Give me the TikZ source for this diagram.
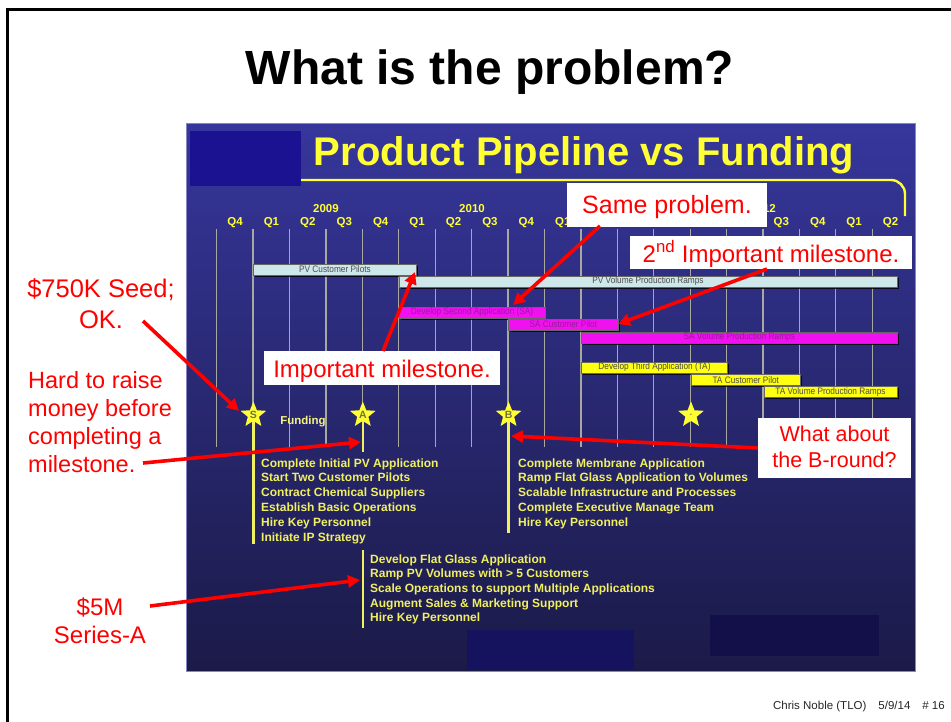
\documentclass[tikz,border=0pt]{standalone}
\usepackage{fontspec}
\setmainfont{Liberation Sans}
\newfontfamily\barfont[FakeStretch=0.88]{Liberation Sans}
\usetikzlibrary{shapes.geometric,arrows.meta,shadows}
\definecolor{panelTop}{HTML}{36369C}
\definecolor{panelBot}{HTML}{1B1A47}
\definecolor{darkSq}{HTML}{1A1290}
\definecolor{rectA}{HTML}{15125E}
\definecolor{rectB}{HTML}{130F48}
\definecolor{ylw}{HTML}{FFFF33}
\definecolor{listY}{HTML}{F0F060}
\definecolor{gridG}{HTML}{A8A8A0}
\definecolor{pvBlue}{HTML}{CDE7EB}
\definecolor{saMag}{HTML}{F010F0}
\definecolor{saText}{HTML}{9A1A9A}
\definecolor{taYel}{HTML}{FFFF10}
\definecolor{starT}{HTML}{707040}
\definecolor{annRed}{HTML}{FF0000}
\begin{document}
\begin{tikzpicture}[x=1pt,y=-1pt,
  gridline/.style={draw=gridG, line width=1.3},
  fundline/.style={draw=listY, line width=2.4},
  qlabel/.style={text=ylw, font=\bfseries\fontsize{11.5}{12}\selectfont, inner sep=0},
  barbox/.style={draw=black!60, line width=0.5, minimum height=11, inner sep=0,
    font=\barfont\fontsize{9.4}{9.5}\selectfont,
    drop shadow={shadow xshift=1.5pt, shadow yshift=-1.5pt, opacity=0.8, fill=black}},
  pvbar/.style={barbox, fill=pvBlue, text=black!70},
  sabar/.style={barbox, fill=saMag, text=saText},
  tabar/.style={barbox, fill=taYel, text=black!70},
  fstar/.style={star, star points=5, star point ratio=2.3, minimum size=27, inner sep=0,
    fill=ylw, text=starT, font=\bfseries\fontsize{10.5}{11}\selectfont},
  listtxt/.style={anchor=base west, text=listY, font=\bfseries\fontsize{12}{13}\selectfont, inner sep=0},
  annbox/.style={fill=white, inner sep=0},
  anntxt/.style={text=annRed, inner sep=0, anchor=base, font=\fontsize{24}{26}\selectfont},
  redarrow/.style={draw=annRed, line width=3.6, -{Triangle[length=12pt,width=12pt]}}
]
\useasboundingbox (0,0) rectangle (951,721);
\fill[white] (0,0) rectangle (951,721);
\draw[line width=3] (7,730) -- (7,9) -- (960,9);

% slide title
\node[anchor=base, font=\bfseries\fontsize{48}{50}\selectfont, inner sep=0] (title) at (490,84) {What is the problem?};

% panel
\shade[top color=panelTop, bottom color=panelBot] (186,123) rectangle (915,671);
\draw[draw=panelTop!60!white, line width=1] (186,123) rectangle (915,671);
\fill[darkSq] (190,131) rectangle (301,186);
\fill[rectA] (467,630) rectangle (634,670);
\fill[rectB] (710,615) rectangle (879,656);

\node[anchor=base, text=ylw, font=\bfseries\fontsize{40}{42}\selectfont, inner sep=0] (ptitle) at (584,165) {Product Pipeline vs Funding};
\draw[draw=ylw, line width=2.4, rounded corners=14] (301,180) -- (905,180) -- (905,216);

% grid
\foreach \i in {0,...,18} {
  \draw[gridline] ({216.7+36.42*\i},229) -- ({216.7+36.42*\i},447);
}
\foreach \q/\i in {Q4/0,Q1/1,Q2/2,Q3/3,Q4/4,Q1/5,Q2/6,Q3/7,Q4/8,Q1/9,Q3/15,Q4/16,Q1/17,Q2/18} {
  \node[qlabel, anchor=base] (q\i) at ({235+36.42*\i},225.5) {\q};
}
\node[qlabel, anchor=base] (y2009) at (326,212) {2009};
\node[qlabel, anchor=base] (y2010) at (472,212) {2010};
\node[qlabel, anchor=base] (y2012) at (763,212) {2012};

% bars
\node[pvbar, minimum width=163] (pvpilot) at (335,269.5) {PV Customer Pilots};
\node[pvbar, minimum width=498] (pvramp) at (648,281.5) {PV Volume Production Ramps};
\node[sabar, minimum width=145.7] (sadev) at (472.1,312.5) {Develop Second Application (SA)};
\node[sabar, minimum width=109.4] (sapilot) at (563.3,324.5) {SA Customer Pilot};
\node[sabar, minimum width=315.4] (saramp) at (739.3,337.5) {SA Volume Production Ramps};
\node[tabar, minimum width=145.8] (tadev) at (654.5,367.5) {Develop Third Application (TA)};
\node[tabar, minimum width=109.5] (tapilot) at (745.8,380) {TA Customer Pilot};
\node[tabar, minimum width=133] (taramp) at (830.5,392) {TA Volume Production Ramps};

% funding lines and stars
\draw[fundline] (253.4,415) -- (253.4,544);
\draw[fundline] (362.8,415) -- (362.8,452);
\draw[fundline] (362.8,550) -- (362.8,628);
\draw[fundline] (508.6,415) -- (508.6,533);
\node[fstar] (starS) at (253.4,415) {S};
\node[fstar] (starA) at (362.8,415) {A};
\node[fstar] (starB) at (508.6,415) {B};
\node[fstar] (starC) at (691,415) {\fontsize{5}{5}\selectfont\textbullet};
\node[anchor=base, text=listY!80!white, font=\bfseries\fontsize{11.5}{12}\selectfont, inner sep=0] (funding) at (303,424) {Funding};

% lists
\foreach \t [count=\i] in {Complete Initial PV Application,Start Two Customer Pilots,Contract Chemical Suppliers,Establish Basic Operations,Hire Key Personnel,Initiate IP Strategy} {
  \node[listtxt] (ls\i) at (261,{452.2+14.8*\i}) {\t};
}
\foreach \t [count=\i] in {Complete Membrane Application,Ramp Flat Glass Application to Volumes,Scalable Infrastructure and Processes,Complete Executive Manage Team,Hire Key Personnel} {
  \node[listtxt] (lb\i) at (518,{452.2+14.8*\i}) {\t};
}
\foreach \t [count=\i] in {Develop Flat Glass Application,Ramp PV Volumes with > 5 Customers,Scale Operations to support Multiple Applications,Augment Sales \& Marketing Support,Hire Key Personnel} {
  \node[listtxt] (la\i) at (370,{548.3+14.7*\i}) {\t};
}

% annotation boxes
\node[annbox, minimum width=200, minimum height=44] (same) at (667,205) {};
\node[anntxt, font=\fontsize{25}{27}\selectfont] (sametxt) at (667,213) {Same problem.};
\node[annbox, minimum width=282, minimum height=33] (second) at (771,252.5) {};
\node[anntxt] (secondtxt) at (771,262) {2\textsuperscript{nd} Important milestone.};
\node[annbox, minimum width=236, minimum height=34] (imp) at (382,368) {};
\node[anntxt] (imptxt) at (382,377) {Important milestone.};
\node[annbox, minimum width=153, minimum height=60] (bround) at (834.5,448) {};
\node[anntxt, font=\fontsize{21.5}{23}\selectfont] (br1) at (834.5,441) {What about};
\node[anntxt, font=\fontsize{21.5}{23}\selectfont] (br2) at (834.5,467) {the B-round?};

% left annotations
\node[anntxt, font=\fontsize{25.5}{27}\selectfont] (seed1) at (101,297) {\$750K Seed;};
\node[anntxt, font=\fontsize{25.5}{27}\selectfont] (seed2) at (101,328) {OK.};
\node[anntxt, anchor=base west, font=\fontsize{23.5}{25}\selectfont] (hard1) at (28,388) {Hard to raise};
\node[anntxt, anchor=base west, font=\fontsize{23.5}{25}\selectfont] (hard2) at (28,416) {money before};
\node[anntxt, anchor=base west, font=\fontsize{23.5}{25}\selectfont] (hard3) at (28,444) {completing a};
\node[anntxt, anchor=base west, font=\fontsize{23.5}{25}\selectfont] (hard4) at (28,472) {milestone.};
\node[anntxt, font=\fontsize{24}{26}\selectfont] (five1) at (100,615) {\$5M};
\node[anntxt, font=\fontsize{24}{26}\selectfont] (five2) at (100,643) {Series-A};

% arrow ends
\coordinate (aSameS) at (600,226);
\coordinate (aSameT) at (513,305);
\coordinate (aSecS) at (767,269);
\coordinate (aSecT) at (618,324);
\coordinate (aImpS) at (383,351);
\coordinate (aImpT) at (415,272);
\coordinate (aSeedS) at (143,321);
\coordinate (aSeedT) at (239,411);
\coordinate (aHardS) at (143,463);
\coordinate (aHardT) at (361,442);
\coordinate (aBT) at (511,436);
\coordinate (aFiveS) at (150,606);
\coordinate (aFiveT) at (360,580);

\draw[redarrow] (aSameS) -- (aSameT);
\draw[redarrow] (aSecS) -- (aSecT);
\draw[redarrow] (aImpS) -- (aImpT);
\draw[redarrow] (aSeedS) -- (aSeedT);
\draw[redarrow] (aHardS) -- (aHardT);
\draw[redarrow] (bround.west) -- (aBT);
\draw[redarrow] (aFiveS) -- (aFiveT);

% footer
\node[anchor=base east, inner sep=0, text=black!85, font=\fontsize{11.5}{12}\selectfont] (foot) at (945,709) {Chris Noble (TLO)\hspace{12pt}5/9/14\hspace{12pt}\# 16};
\end{tikzpicture}
\end{document}
